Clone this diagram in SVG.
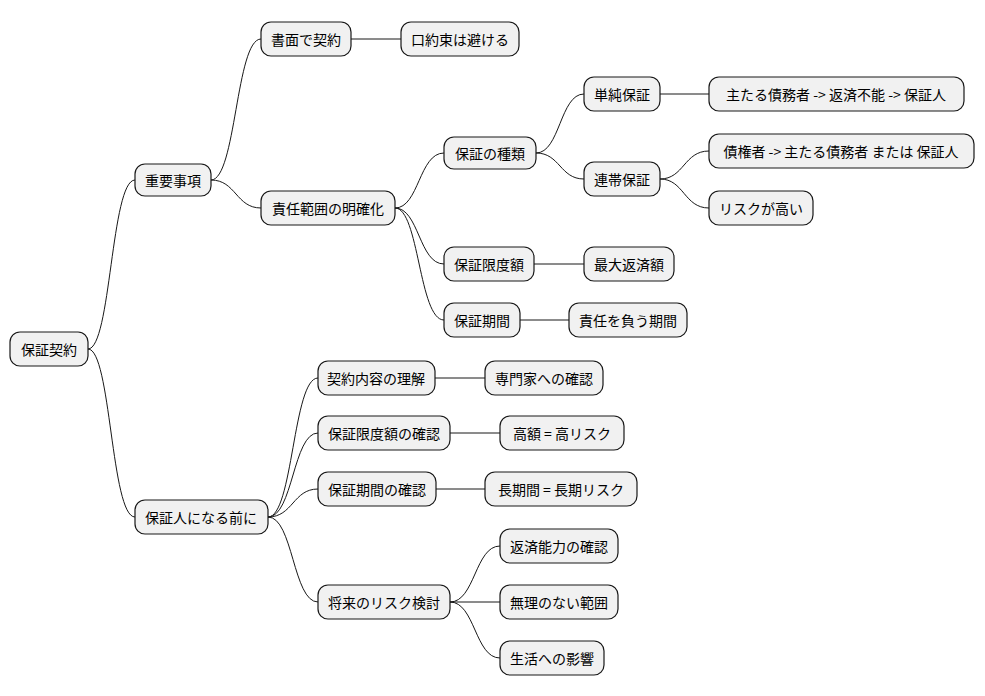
<svg xmlns="http://www.w3.org/2000/svg" width="985" height="696" viewBox="0 0 985 696">
<style>
.n rect{fill:#f1f1f1;stroke:#181818;stroke-width:1.2}
.n text{font-family:"Noto Sans CJK JP","Liberation Sans",sans-serif;font-size:14px;fill:#000;text-anchor:middle;dominant-baseline:central}
#c path{fill:none;stroke:#181818;stroke-width:1}
</style>
<rect width="985" height="696" fill="#fff"/>
<g id="c">
<path d="M88,349 C111,349 111,180 135,180"/>
<path d="M88,349 C111,349 111,517 135,517"/>
<path d="M211,180 C236,180 236,39 261,39"/>
<path d="M211,180 C236,180 236,208 261,208"/>
<path d="M351,39 L401,39"/>
<path d="M395,208 C419,208 419,153 444,153"/>
<path d="M395,208 C419,208 419,264 444,264"/>
<path d="M395,208 C419,208 419,320 444,320"/>
<path d="M536,153 C560,153 560,94 584,94"/>
<path d="M536,153 C560,153 560,179 584,179"/>
<path d="M660,94 L709,94"/>
<path d="M660,179 C684,179 684,151 709,151"/>
<path d="M660,179 C684,179 684,208 709,208"/>
<path d="M534,264 L584,264"/>
<path d="M520,320 L569,320"/>
<path d="M268,517 C293,517 293,378 318,378"/>
<path d="M268,517 C293,517 293,433 318,433"/>
<path d="M268,517 C293,517 293,489 318,489"/>
<path d="M268,517 C293,517 293,602 318,602"/>
<path d="M435,378 L485,378"/>
<path d="M450,433 L500,433"/>
<path d="M436,489 L485,489"/>
<path d="M450,602 C475,602 475,546 500,546"/>
<path d="M450,602 L500,602"/>
<path d="M450,602 C475,602 475,658 500,658"/>
</g>
<g id="n1" class="n"><rect x="10" y="332" width="78" height="34" rx="10"/><text x="49" y="349">保証契約</text></g>
<g id="n2" class="n"><rect x="135" y="164" width="76" height="32" rx="10"/><text x="173" y="180">重要事項</text></g>
<g id="n3" class="n"><rect x="261" y="22" width="90" height="34" rx="10"/><text x="306" y="39">書面で契約</text></g>
<g id="n4" class="n"><rect x="401" y="22" width="118" height="34" rx="10"/><text x="460" y="39">口約束は避ける</text></g>
<g id="n5" class="n"><rect x="261" y="191" width="134" height="34" rx="10"/><text x="328" y="208">責任範囲の明確化</text></g>
<g id="n6" class="n"><rect x="444" y="137" width="92" height="32" rx="10"/><text x="490" y="153">保証の種類</text></g>
<g id="n7" class="n"><rect x="584" y="77" width="76" height="34" rx="10"/><text x="622" y="94">単純保証</text></g>
<g id="n8" class="n"><rect x="709" y="77" width="255" height="34" rx="10"/><text x="836" y="94">主たる債務者 -&gt; 返済不能 -&gt; 保証人</text></g>
<g id="n9" class="n"><rect x="584" y="162" width="76" height="34" rx="10"/><text x="622" y="179">連帯保証</text></g>
<g id="n10" class="n"><rect x="709" y="134" width="265" height="34" rx="10"/><text x="841" y="151">債権者 -&gt; 主たる債務者 または 保証人</text></g>
<g id="n11" class="n"><rect x="709" y="191" width="104" height="34" rx="10"/><text x="761" y="208">リスクが高い</text></g>
<g id="n12" class="n"><rect x="444" y="247" width="90" height="34" rx="10"/><text x="489" y="264">保証限度額</text></g>
<g id="n13" class="n"><rect x="584" y="247" width="90" height="34" rx="10"/><text x="629" y="264">最大返済額</text></g>
<g id="n14" class="n"><rect x="444" y="303" width="76" height="34" rx="10"/><text x="482" y="320">保証期間</text></g>
<g id="n15" class="n"><rect x="569" y="303" width="118" height="34" rx="10"/><text x="628" y="320">責任を負う期間</text></g>
<g id="n16" class="n"><rect x="135" y="500" width="133" height="34" rx="10"/><text x="201" y="517">保証人になる前に</text></g>
<g id="n17" class="n"><rect x="318" y="361" width="117" height="34" rx="10"/><text x="376" y="378">契約内容の理解</text></g>
<g id="n18" class="n"><rect x="485" y="361" width="118" height="34" rx="10"/><text x="544" y="378">専門家への確認</text></g>
<g id="n19" class="n"><rect x="318" y="416" width="132" height="34" rx="10"/><text x="384" y="433">保証限度額の確認</text></g>
<g id="n20" class="n"><rect x="500" y="416" width="124" height="34" rx="10"/><text x="562" y="433">高額 = 高リスク</text></g>
<g id="n21" class="n"><rect x="318" y="472" width="118" height="34" rx="10"/><text x="377" y="489">保証期間の確認</text></g>
<g id="n22" class="n"><rect x="485" y="472" width="152" height="34" rx="10"/><text x="561" y="489">長期間 = 長期リスク</text></g>
<g id="n23" class="n"><rect x="318" y="585" width="132" height="34" rx="10"/><text x="384" y="602">将来のリスク検討</text></g>
<g id="n24" class="n"><rect x="500" y="529" width="118" height="34" rx="10"/><text x="559" y="546">返済能力の確認</text></g>
<g id="n25" class="n"><rect x="500" y="585" width="118" height="34" rx="10"/><text x="559" y="602">無理のない範囲</text></g>
<g id="n26" class="n"><rect x="500" y="641" width="104" height="34" rx="10"/><text x="552" y="658">生活への影響</text></g>
</svg>
